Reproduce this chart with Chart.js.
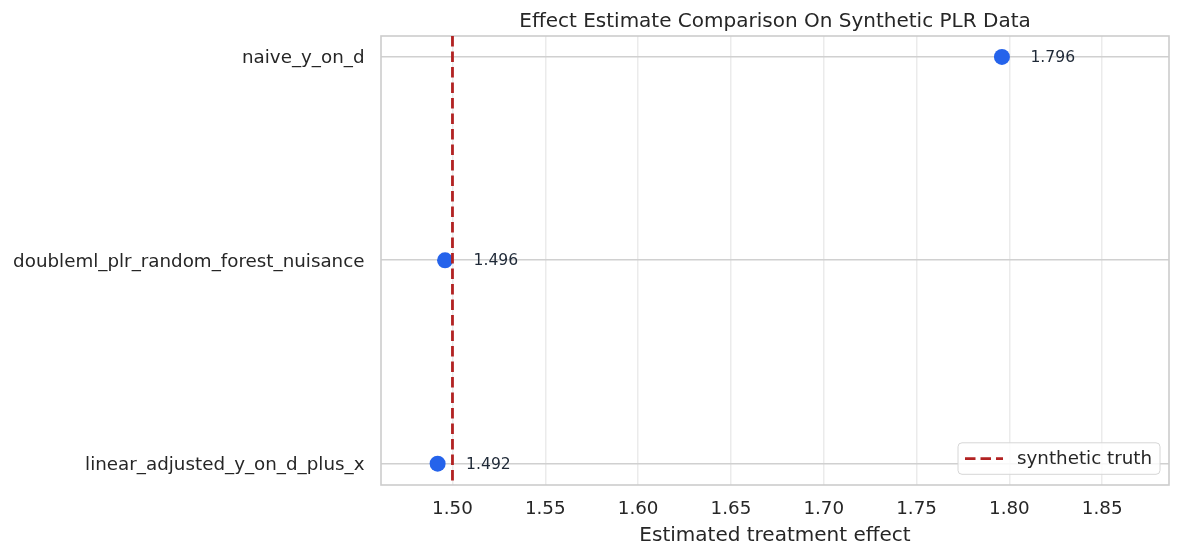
<!DOCTYPE html>
<html>
<head>
<meta charset="utf-8">
<script src="https://cdn.jsdelivr.net/npm/chart.js@4.4.1/dist/chart.umd.min.js"></script>
<style>
  html, body { margin: 0; padding: 0; background: #ffffff; }
  #wrap { width: 1180px; height: 556px; position: relative; }
</style>
</head>
<body>
<div id="wrap"><canvas id="chart"></canvas></div>
<script>
// ---- data ----
const methods = ['naive_y_on_d', 'doubleml_plr_random_forest_nuisance', 'linear_adjusted_y_on_d_plus_x'];
const estimates = [1.796, 1.496, 1.492];
const estimateLabels = ['1.796', '1.496', '1.492'];
const truthValue = 1.5;
const truthLabel = 'synthetic truth';
const xTicks = [1.50, 1.55, 1.60, 1.65, 1.70, 1.75, 1.80, 1.85];
const xMin = 1.4615, xMax = 1.886;
const yMin = -0.103, yMax = 2.105;

const FONT = '"DejaVu Sans", "Liberation Sans", sans-serif';
const TEXT = '#262626';
const RED = '#b22222';
const BLUE = '#2563eb';
const DASH = [10.5, 5];

const borderPlugin = {
  id: 'frame',
  beforeDatasetsDraw(chart) {
    const { ctx, chartArea: a } = chart;
    ctx.save();
    ctx.strokeStyle = '#cccccc';
    ctx.lineWidth = 1.6;
    ctx.strokeRect(a.left, a.top, a.right - a.left, a.bottom - a.top);
    ctx.restore();
  }
};

const annotPlugin = {
  id: 'annot',
  afterDatasetsDraw(chart) {
    const { ctx } = chart;
    const meta = chart.getDatasetMeta(1);
    ctx.save();
    ctx.font = '15.6px ' + FONT;
    ctx.fillStyle = '#1f2937';
    ctx.textAlign = 'left';
    ctx.textBaseline = 'middle';
    meta.data.forEach((pt, i) => {
      ctx.fillText(estimateLabels[i], pt.x + 28.5, pt.y + 1);
    });
    ctx.restore();
  }
};

const legendPlugin = {
  id: 'innerLegend',
  afterDraw(chart) {
    const { ctx, chartArea: a } = chart;
    const w = 202, h = 31.5;
    const x = a.right - 9 - w, y = a.bottom - 10.7 - h;
    ctx.save();
    ctx.beginPath();
    if (ctx.roundRect) ctx.roundRect(x, y, w, h, 4); else ctx.rect(x, y, w, h);
    ctx.fillStyle = 'rgba(255,255,255,0.85)';
    ctx.fill();
    ctx.strokeStyle = '#d6d6d6';
    ctx.lineWidth = 1;
    ctx.stroke();
    const cy = y + h / 2;
    ctx.beginPath();
    ctx.setLineDash(DASH);
    ctx.strokeStyle = RED;
    ctx.lineWidth = 2.8;
    ctx.moveTo(x + 7, cy);
    ctx.lineTo(x + 45, cy);
    ctx.stroke();
    ctx.setLineDash([]);
    ctx.font = '18.3px ' + FONT;
    ctx.fillStyle = TEXT;
    ctx.textAlign = 'left';
    ctx.textBaseline = 'middle';
    ctx.fillText(truthLabel, x + 59, cy + 1);
    ctx.restore();
  }
};

new Chart(document.getElementById('chart'), {
  type: 'scatter',
  data: {
    datasets: [
      {
        type: 'line',
        label: truthLabel,
        data: [{ x: truthValue, y: yMin }, { x: truthValue, y: yMax }],
        borderColor: RED,
        borderWidth: 2.8,
        borderDash: DASH,
        pointRadius: 0,
        fill: false,
        order: 0
      },
      {
        label: 'estimate',
        data: estimates.map((v, i) => ({ x: v, y: i })),
        backgroundColor: BLUE,
        borderWidth: 0,
        pointRadius: 8,
        pointHoverRadius: 8,
        order: 1
      }
    ]
  },
  options: {
    responsive: true,
    maintainAspectRatio: false,
    devicePixelRatio: 1,
    animation: false,
    layout: { padding: { left: 0, right: 11, top: 0, bottom: 0 } },
    plugins: {
      legend: { display: false },
      tooltip: { enabled: false },
      title: {
        display: true,
        text: 'Effect Estimate Comparison On Synthetic PLR Data',
        color: TEXT,
        font: { family: FONT, size: 20, weight: 'normal' },
        padding: { top: 10, bottom: 2 },
        fullSize: false
      }
    },
    scales: {
      x: {
        type: 'linear',
        min: xMin,
        max: xMax,
        afterBuildTicks(scale) { scale.ticks = xTicks.map(v => ({ value: v })); },
        afterFit(scale) { scale.height = 71; },
        ticks: {
          color: TEXT,
          font: { family: FONT, size: 18.3 },
          padding: 13,
          callback: (v) => Number(v).toFixed(2)
        },
        grid: { color: '#ebebeb', lineWidth: 1.5, drawTicks: false },
        border: { display: false },
        title: {
          display: true,
          text: 'Estimated treatment effect',
          color: TEXT,
          font: { family: FONT, size: 20 },
          padding: { top: 0, bottom: 8 }
        }
      },
      y: {
        type: 'linear',
        reverse: true,
        min: yMin,
        max: yMax,
        afterBuildTicks(scale) { scale.ticks = methods.map((m, i) => ({ value: i })); },
        afterFit(scale) { scale.width = 381; },
        ticks: {
          color: TEXT,
          font: { family: FONT, size: 18.3 },
          padding: 16.5,
          labelOffset: 1.5,
          callback: (v) => methods[v] !== undefined ? methods[v] : ''
        },
        grid: { color: '#d0d0d0', lineWidth: 1.6, drawTicks: false },
        border: { display: false }
      }
    }
  },
  plugins: [borderPlugin, annotPlugin, legendPlugin]
});
</script>
</body>
</html>
